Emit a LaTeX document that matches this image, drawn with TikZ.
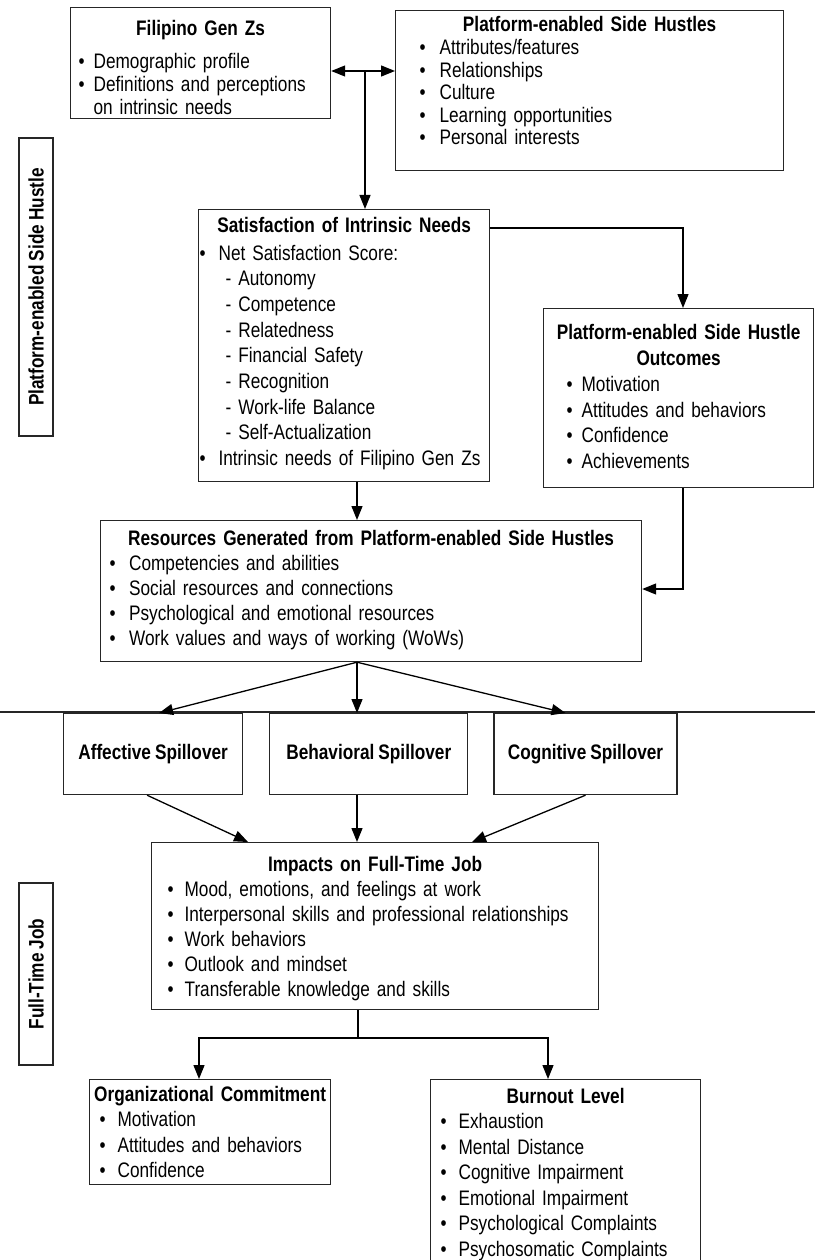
\documentclass[tikz,border=0pt]{standalone}
\usepackage{fontspec}
\setmainfont{Liberation Sans}[FakeStretch=0.82, WordSpace=0.85]
\usetikzlibrary{positioning, arrows.meta, calc}
\newlength{\bulw}
\newcommand{\itm}{\makebox[\bulw][l]{\textbullet}}
\newcommand{\hd}[1]{\makebox[\hsize][c]{\bfseries #1}}
\begin{document}
\begin{tikzpicture}[x=1pt,y=1pt]
		\tikzstyle{textbox}=[rectangle, draw=black!85, line width=1.2pt, anchor=north west, align=left, inner ysep=0pt, font=\fontsize{21}{25}\selectfont]
		\tikzstyle{spill}=[rectangle, draw=black!85, line width=1.2pt, minimum height=81pt, font=\bfseries\fontsize{21}{25}\selectfont]
		\tikzstyle{sidelabel}=[rectangle, draw=black!85, line width=1.2pt, rotate=90, inner sep=2pt, minimum height=34pt, font=\bfseries\fontsize{21}{25}\selectfont]
		\tikzstyle{connect}=[-{Triangle[length=14pt,width=11pt]}, line width=1.3pt]
		\tikzstyle{biconnect}=[{Triangle[length=14pt,width=11pt]}-{Triangle[length=14pt,width=11pt]}, line width=1.3pt]
		\tikzset{bul/.code={\setlength{\bulw}{#1}}}
		\useasboundingbox (0,0) rectangle (815,-1260);
		
		\node[textbox, bul=15pt, inner xsep=8pt, text width=244pt, minimum height=111pt, font=\fontsize{21}{23}\selectfont] (genz) at (70,-7) {\hd{Filipino Gen Zs}\\[10pt] \itm Demographic profile\\ \itm Definitions and perceptions\\ \hspace*{\bulw}on intrinsic needs\par\kern-8pt};
		\node[textbox, bul=20pt, inner xsep=24pt, text width=340pt, minimum height=160pt, font=\fontsize{21}{22.5}\selectfont] (hustle) at (395,-10) {\hd{Platform-enabled Side Hustles}\\[1pt] \itm Attributes/features\\ \itm Relationships\\ \itm Culture\\ \itm Learning opportunities\\ \itm Personal interests\par\kern20pt};
		
		\node[sidelabel, minimum width=298pt] (sidetop) at (36,-287) {Platform-enabled Side Hustle};
		
		\node[textbox, bul=19pt, inner xsep=1pt, text width=289pt, minimum height=272pt, font=\fontsize{21}{25.7}\selectfont] (sat) at (198,-209) {\hd{Satisfaction of Intrinsic Needs}\\[2pt] \itm Net Satisfaction Score:\\ \hspace*{26pt}- Autonomy\\ \hspace*{26pt}- Competence\\ \hspace*{26pt}- Relatedness\\ \hspace*{26pt}- Financial Safety\\ \hspace*{26pt}- Recognition\\ \hspace*{26pt}- Work-life Balance\\ \hspace*{26pt}- Self-Actualization\\ \itm Intrinsic needs of Filipino Gen Zs\par\kern4pt};
		\node[textbox, bul=15pt, inner xsep=23pt, text width=224pt, minimum height=179pt, font=\fontsize{21}{25.8}\selectfont] (outc) at (543,-308) {\hd{Platform-enabled Side Hustle}\\ \hd{Outcomes}\\ \itm Motivation\\ \itm Attitudes and behaviors\\ \itm Confidence\\ \itm Achievements\par\kern3pt};
		
		\node[textbox, bul=19.5pt, inner xsep=9pt, text width=523pt, minimum height=141pt] (res) at (100,-520) {\hd{Resources Generated from Platform-enabled Side Hustles}\\ \itm Competencies and abilities\\ \itm Social resources and connections\\ \itm Psychological and emotional resources\\ \itm Work values and ways of working (WoWs)\par\kern3pt};
		
		\draw[line width=1.2pt, black!85] (0,-712) -- (815,-712);
		
		\node[spill, anchor=north west, minimum width=179pt] (aff) at (63,-713) {Affective Spillover};
		\node[spill, minimum width=198pt] (beh) [right=26pt of aff] {Behavioral Spillover};
		\node[spill, minimum width=183pt] (cog) [right=25pt of beh] {Cognitive Spillover};
		
		\node[textbox, bul=17pt, inner xsep=16pt, text width=415pt, minimum height=167pt] (imp) at (151,-842) {\hd{Impacts on Full-Time Job}\\ \itm Mood, emotions, and feelings at work\\ \itm Interpersonal skills and professional relationships\\ \itm Work behaviors\\ \itm Outlook and mindset\\ \itm Transferable knowledge and skills\par\kern-4pt};
		
		\node[sidelabel, minimum width=182pt] (sidebot) at (36,-974) {Full-Time Job};
		
		\node[textbox, bul=18pt, inner xsep=10pt, text width=221pt, minimum height=105pt, font=\fontsize{21}{25.5}\selectfont] (org) at (89,-1079) {\hd{Organizational Commitment}\\ \itm Motivation\\ \itm Attitudes and behaviors\\ \itm Confidence};
		\node[textbox, bul=18pt, inner xsep=10pt, text width=250pt, minimum height=189pt, font=\fontsize{21}{25.5}\selectfont] (burn) at (430,-1079) {\hd{Burnout Level}\\ \itm Exhaustion\\ \itm Mental Distance\\ \itm Cognitive Impairment\\ \itm Emotional Impairment\\ \itm Psychological Complaints\\ \itm Psychosomatic Complaints};
		
		\coordinate (j1) at (365,-71);
		\coordinate (j2) at (683,-228);
		\coordinate (j3) at (683,-589);
		\coordinate (mid) at (357,0);
		\coordinate (j5) at (358,-1038);
		\coordinate (bl) at (199,-1038);
		\coordinate (br) at (548,-1038);
		
		\path (genz.east |- j1) edge [biconnect] (hustle.west |- j1);
		\path (j1) edge [connect] (j1 |- sat.north);
		
		\draw[connect] (sat.east |- j2) -- (j2) -- (j2 |- outc.north);
		\draw[connect] (j3 |- outc.south) -- (j3) -- (res.east |- j3);
		\path (mid |- sat.south) edge [connect] (mid |- res.north);
		
		\path (mid |- res.south) edge [connect] ($(aff.north)+(6,0)$);
		\path (mid |- res.south) edge [connect] (mid |- beh.north);
		\path (mid |- res.south) edge [connect] ($(cog.north)+(-20,0)$);
		
		\path ($(aff.south)+(-6,0)$) edge [connect] ($(imp.north west)+(97,0)$);
		\path (mid |- beh.south) edge [connect] (mid |- imp.north);
		\path (cog.south) edge [connect] ($(imp.north west)+(321,0)$);
		
		\draw[line width=1.3pt] (j5 |- imp.south) -- (j5);
		\draw[connect] (j5) -| (bl |- org.north);
		\draw[connect] (j5) -| (br |- burn.north);
		
	\end{tikzpicture}
\end{document}
